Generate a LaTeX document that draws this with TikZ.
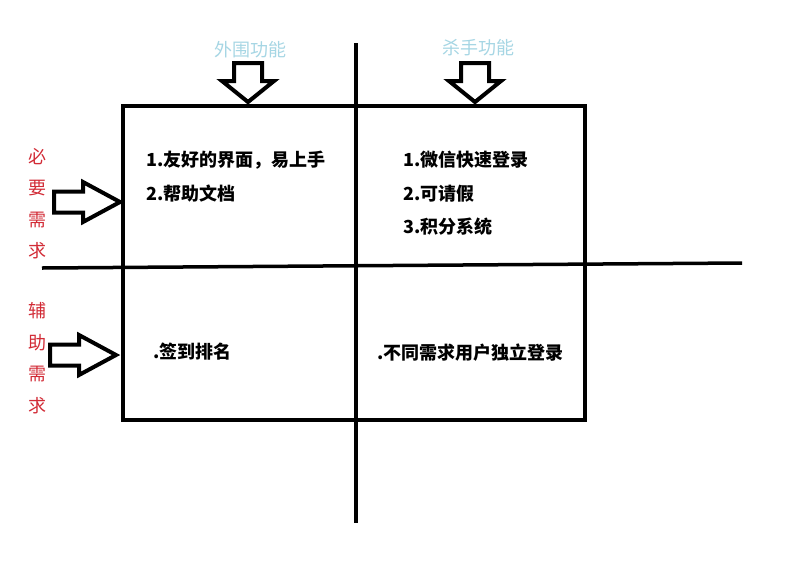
\documentclass[tikz,border=0pt]{standalone}
\usepackage{fontspec}
\setmainfont{Noto Sans CJK SC}
\usetikzlibrary{positioning}
\definecolor{SoftBlue}{HTML}{A6D6E4}
\definecolor{Crimson}{HTML}{D22B36}

\begin{document}
\begin{tikzpicture}[
  x=1pt,y=-1pt,
  frame/.style={line width=4pt,draw=black},
  axis/.style={line width=3.5pt,draw=black},
  hollow/.style={line width=4pt,draw=black,fill=white,line join=miter},
  topic/.style={font=\fontsize{18}{20}\selectfont,text=SoftBlue,inner sep=0pt},
  need/.style={font=\fontsize{18}{31.5}\selectfont,text=Crimson,align=center,inner sep=0pt},
  item/.style={font=\fontsize{18}{33.5}\selectfont\bfseries,align=left,anchor=west,inner sep=0pt},
  darrow/.pic={\draw[hollow] (0,0) -- (-26,-21) -- (-14,-21) -- (-14,-39) -- (14,-39) -- (14,-21) -- (26,-21) -- cycle;},
  rarrow/.pic={\draw[hollow] (0,0) -- (-37,-20) -- (-37,-10.5) -- (-66,-10.5) -- (-66,10.5) -- (-37,10.5) -- (-37,20) -- cycle;}
]
\useasboundingbox (0,0) rectangle (799,560);
\fill[white] (0,0) rectangle (799,560);

% quadrant grid
\draw[frame] (123,106) rectangle (585,420);
\coordinate (vtop) at (356,43);
\coordinate (vbot) at (356,523);
\coordinate (hleft) at (42,268);
\coordinate (hright) at (742,263);
\draw[axis] (vtop) -- (vbot);
\draw[axis] (hleft) -- (hright);

% column heads
\node[topic] (outer) at (250,50) {外围功能};
\node[topic] (killer) at (478,48) {杀手功能};
\pic at (248,102) {darrow};
\pic at (475,102) {darrow};

% row heads
\node[need] (must) at (37,203.5) {必\\要\\需\\求};
\node[need] (aux) at (37,358) {辅\\助\\需\\求};
\pic at (120,202) {rarrow};
\pic at (116,355) {rarrow};

% cells
\node[item] (outerMust) at (146,176.5) {1.友好的界面，易上手\\2.帮助文档};
\node[item] (killerMust) at (403,193.5) {1.微信快速登录\\2.可请假\\3.积分系统};
\node[item] (outerAux) at (153,352) {.签到排名};
\node[item] (killerAux) at (377,353) {.不同需求用户独立登录};
\end{tikzpicture}
\end{document}
